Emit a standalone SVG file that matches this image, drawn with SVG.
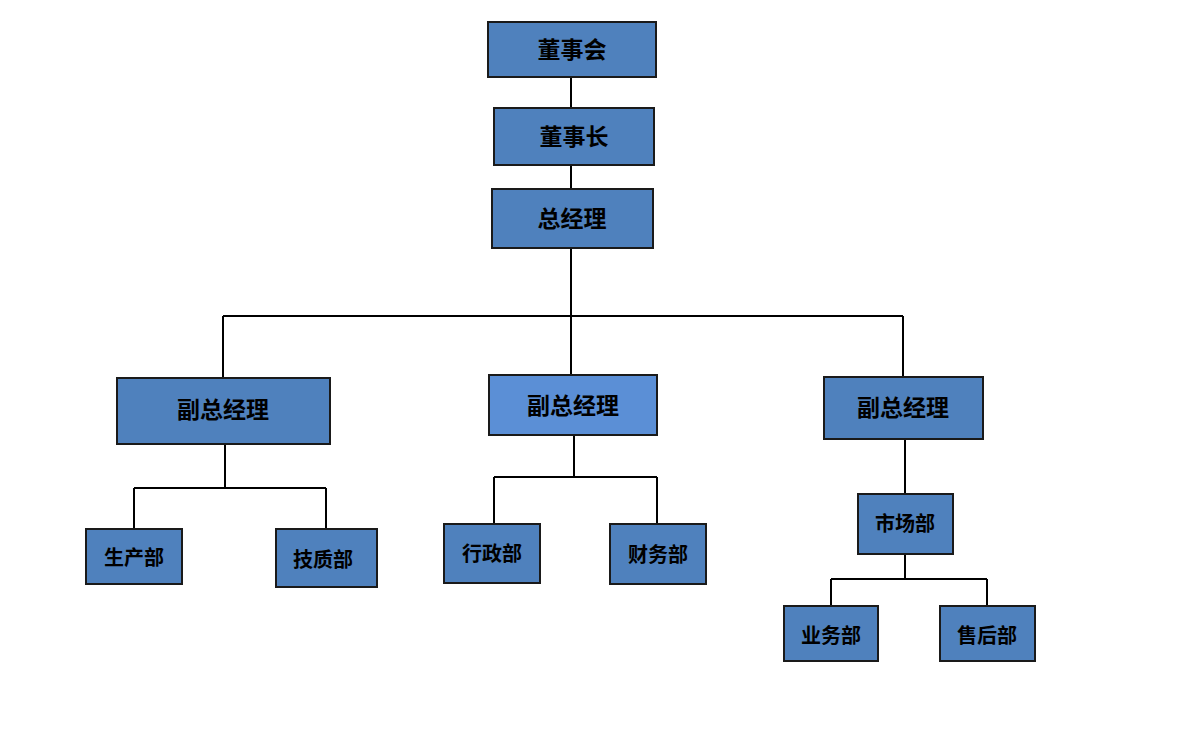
<svg xmlns="http://www.w3.org/2000/svg" width="1193" height="740" viewBox="0 0 1193 740">
<style>
.n{fill:#4f81bd;stroke:#1a1a1a;stroke-width:2}
.l{fill:#5b8fd6}
text{font-family:"Liberation Serif","Noto Sans CJK SC",serif;font-weight:bold;fill:#000;text-anchor:middle;dominant-baseline:central}
.b{font-size:23px}.s{font-size:20px}
.c{stroke:#000;stroke-width:2;fill:none}
</style>
<rect width="1193" height="740" fill="#fff"/>
<g id="connectors" class="c">
<path d="M571 77V108M571 165V189M571 248V316M223 316H903M223 316V378M571 316V375M903 316V377"/>
<path d="M225 444V488M134 488H326M134 488V529M326 488V529"/>
<path d="M574 435V477M494 477H657M494 477V524M657 477V524"/>
<path d="M905 439V494M905 554V579M831 579H987M831 579V606M987 579V606"/>
</g>
<g id="n1"><rect class="n" x="488" y="22" width="168" height="55"/><text class="b" x="572" y="50">董事会</text></g>
<g id="n2"><rect class="n" x="494" y="108" width="160" height="57"/><text class="b" x="574" y="137">董事长</text></g>
<g id="n3"><rect class="n" x="492" y="189" width="161" height="59"/><text class="b" x="572" y="219">总经理</text></g>
<g id="n4"><rect class="n" x="117" y="378" width="213" height="66"/><text class="b" x="223" y="410">副总经理</text></g>
<g id="n5"><rect class="n l" x="489" y="375" width="168" height="60"/><text class="b" x="573" y="406">副总经理</text></g>
<g id="n6"><rect class="n" x="824" y="377" width="159" height="62"/><text class="b" x="903" y="408">副总经理</text></g>
<g id="n7"><rect class="n" x="86" y="529" width="96" height="55"/><text class="s" x="134" y="558">生产部</text></g>
<g id="n8"><rect class="n" x="276" y="529" width="101" height="58"/><text class="s" x="323" y="560">技质部</text></g>
<g id="n9"><rect class="n" x="444" y="524" width="96" height="59"/><text class="s" x="492" y="554">行政部</text></g>
<g id="n10"><rect class="n" x="610" y="524" width="96" height="60"/><text class="s" x="658" y="555">财务部</text></g>
<g id="n11"><rect class="n" x="858" y="494" width="95" height="60"/><text class="s" x="905" y="524">市场部</text></g>
<g id="n12"><rect class="n" x="784" y="606" width="94" height="55"/><text class="s" x="831" y="636">业务部</text></g>
<g id="n13"><rect class="n" x="940" y="606" width="95" height="55"/><text class="s" x="987" y="636">售后部</text></g>
</svg>
